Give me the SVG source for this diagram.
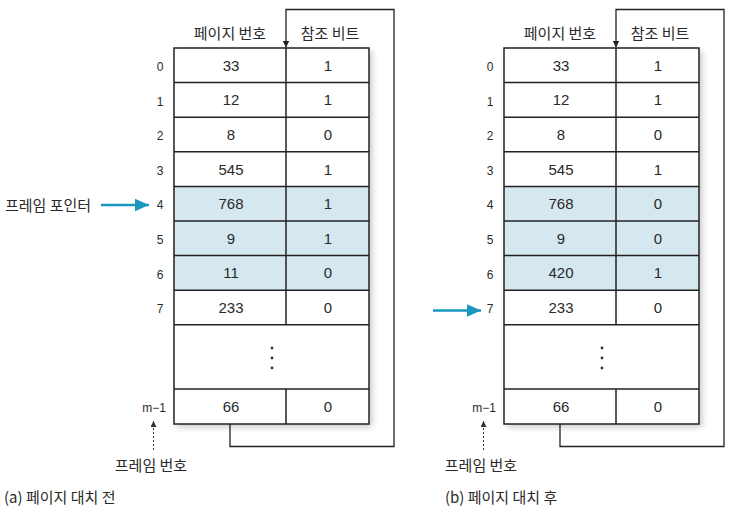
<svg xmlns="http://www.w3.org/2000/svg" width="734" height="525" viewBox="0 0 734 525">
<style>
  .t { font-family: "Liberation Sans", "Noto Sans CJK KR", sans-serif; fill: #2a2a2a; }
  .k { font-family: "Noto Sans CJK KR", "Liberation Sans", sans-serif; fill: #2a2a2a; }
  .cell { font-size: 15px; text-anchor: middle; dominant-baseline: central; }
  .idx { font-size: 12px; text-anchor: middle; dominant-baseline: central; }
  .hdr { font-size: 15px; text-anchor: middle; }
  .lbl { font-size: 15px; }
  .grid { fill: none; stroke: #222; stroke-width: 1.5; }
  .hl { fill: #d5e7ef; }
  .wire { fill: none; stroke: #222; stroke-width: 1.3; }
  .ptr { stroke: #1b97bd; stroke-width: 2.5; fill: none; }
</style>
<defs>
  <filter id="sh" x="-10%" y="-5%" width="125%" height="115%">
    <feDropShadow dx="3" dy="3" stdDeviation="3" flood-color="#000" flood-opacity="0.22"/>
  </filter>
  <marker id="ah" viewBox="0 0 10 10" refX="10" refY="5" markerWidth="7" markerHeight="7" markerUnits="userSpaceOnUse" orient="auto">
    <path d="M0,0 L10,5 L0,10 z" fill="#222"/>
  </marker>
  <marker id="ahs" viewBox="0 0 10 10" refX="10" refY="5" markerWidth="6" markerHeight="6" markerUnits="userSpaceOnUse" orient="auto">
    <path d="M0,0 L10,5 L0,10 z" fill="#333"/>
  </marker>
  <marker id="ahb" viewBox="0 0 10 10" refX="10" refY="5" markerWidth="14" markerHeight="14" markerUnits="userSpaceOnUse" orient="auto">
    <path d="M0,0.5 L10,5 L0,9.5 z" fill="#1b97bd"/>
  </marker>
</defs>
<rect width="734" height="525" fill="#fff"/>

<!-- connectors -->
<g id="connectors">
  <path class="wire" d="M230,424 V446.5 H394 V9.5 H286 V47.5" marker-end="url(#ah)"/>
  <path class="wire" d="M560,424 V446.5 H724 V9.5 H616 V47.5" marker-end="url(#ah)"/>
  <line x1="153.5" y1="450" x2="153.5" y2="421" stroke="#333" stroke-width="1" stroke-dasharray="2,2" marker-end="url(#ahs)"/>
  <line x1="483.5" y1="450" x2="483.5" y2="421" stroke="#333" stroke-width="1" stroke-dasharray="2,2" marker-end="url(#ahs)"/>
  <line class="ptr" x1="101" y1="205" x2="149" y2="205" marker-end="url(#ahb)"/>
  <line class="ptr" x1="433" y1="310.5" x2="481" y2="310.5" marker-end="url(#ahb)"/>
</g>

<!-- table A -->
<g id="tableA">
  <rect x="174" y="48" width="195" height="376" fill="#fff" filter="url(#sh)"/>
  <rect class="hl" x="174" y="186.4" width="195" height="103.8"/>
  <g class="grid">
    <rect x="174" y="48" width="195" height="376"/>
    <line x1="286" y1="48" x2="286" y2="324.8"/>
    <line x1="286" y1="389" x2="286" y2="424"/>
    <line x1="174" y1="82.6" x2="369" y2="82.6"/>
    <line x1="174" y1="117.2" x2="369" y2="117.2"/>
    <line x1="174" y1="151.8" x2="369" y2="151.8"/>
    <line x1="174" y1="186.4" x2="369" y2="186.4"/>
    <line x1="174" y1="221" x2="369" y2="221"/>
    <line x1="174" y1="255.6" x2="369" y2="255.6"/>
    <line x1="174" y1="290.2" x2="369" y2="290.2"/>
    <line x1="174" y1="324.8" x2="369" y2="324.8"/>
    <line x1="174" y1="389" x2="369" y2="389"/>
  </g>
  <text class="k hdr" x="230" y="39">페이지 번호</text>
  <text class="k hdr" x="330" y="39">참조 비트</text>
  <g class="t cell">
    <text x="231" y="65.3">33</text><text x="328" y="65.3">1</text>
    <text x="231" y="99.9">12</text><text x="328" y="99.9">1</text>
    <text x="231" y="134.5">8</text><text x="328" y="134.5">0</text>
    <text x="231" y="169.1">545</text><text x="328" y="169.1">1</text>
    <text x="231" y="203.7">768</text><text x="328" y="203.7">1</text>
    <text x="231" y="238.3">9</text><text x="328" y="238.3">1</text>
    <text x="231" y="272.9">11</text><text x="328" y="272.9">0</text>
    <text x="231" y="307.5">233</text><text x="328" y="307.5">0</text>
    <text x="231" y="406.5">66</text><text x="328" y="406.5">0</text>
  </g>
  <g fill="#333">
    <circle cx="272" cy="348" r="1.4"/><circle cx="272" cy="358" r="1.4"/><circle cx="272" cy="368" r="1.4"/>
  </g>
  <g class="t idx">
    <text x="160" y="67">0</text>
    <text x="160" y="101.6">1</text>
    <text x="160" y="136.2">2</text>
    <text x="160" y="170.8">3</text>
    <text x="160" y="205.4">4</text>
    <text x="160" y="240">5</text>
    <text x="160" y="274.6">6</text>
    <text x="160" y="309.2">7</text>
    <text x="154" y="407.5">m−1</text>
  </g>
  <text class="k lbl" x="5" y="211">프레임 포인터</text>
  <text class="k lbl" x="151" y="471" text-anchor="middle">프레임 번호</text>
  <text class="k lbl" x="4" y="503">(a) 페이지 대치 전</text>
</g>

<!-- table B -->
<g id="tableB">
  <rect x="504" y="48" width="195" height="376" fill="#fff" filter="url(#sh)"/>
  <rect class="hl" x="504" y="186.4" width="195" height="103.8"/>
  <g class="grid">
    <rect x="504" y="48" width="195" height="376"/>
    <line x1="616" y1="48" x2="616" y2="324.8"/>
    <line x1="616" y1="389" x2="616" y2="424"/>
    <line x1="504" y1="82.6" x2="699" y2="82.6"/>
    <line x1="504" y1="117.2" x2="699" y2="117.2"/>
    <line x1="504" y1="151.8" x2="699" y2="151.8"/>
    <line x1="504" y1="186.4" x2="699" y2="186.4"/>
    <line x1="504" y1="221" x2="699" y2="221"/>
    <line x1="504" y1="255.6" x2="699" y2="255.6"/>
    <line x1="504" y1="290.2" x2="699" y2="290.2"/>
    <line x1="504" y1="324.8" x2="699" y2="324.8"/>
    <line x1="504" y1="389" x2="699" y2="389"/>
  </g>
  <text class="k hdr" x="560" y="39">페이지 번호</text>
  <text class="k hdr" x="660" y="39">참조 비트</text>
  <g class="t cell">
    <text x="561" y="65.3">33</text><text x="658" y="65.3">1</text>
    <text x="561" y="99.9">12</text><text x="658" y="99.9">1</text>
    <text x="561" y="134.5">8</text><text x="658" y="134.5">0</text>
    <text x="561" y="169.1">545</text><text x="658" y="169.1">1</text>
    <text x="561" y="203.7">768</text><text x="658" y="203.7">0</text>
    <text x="561" y="238.3">9</text><text x="658" y="238.3">0</text>
    <text x="561" y="272.9">420</text><text x="658" y="272.9">1</text>
    <text x="561" y="307.5">233</text><text x="658" y="307.5">0</text>
    <text x="561" y="406.5">66</text><text x="658" y="406.5">0</text>
  </g>
  <g fill="#333">
    <circle cx="602" cy="348" r="1.4"/><circle cx="602" cy="358" r="1.4"/><circle cx="602" cy="368" r="1.4"/>
  </g>
  <g class="t idx">
    <text x="490" y="67">0</text>
    <text x="490" y="101.6">1</text>
    <text x="490" y="136.2">2</text>
    <text x="490" y="170.8">3</text>
    <text x="490" y="205.4">4</text>
    <text x="490" y="240">5</text>
    <text x="490" y="274.6">6</text>
    <text x="490" y="309.2">7</text>
    <text x="484" y="407.5">m−1</text>
  </g>
  <text class="k lbl" x="481" y="471" text-anchor="middle">프레임 번호</text>
  <text class="k lbl" x="445" y="503">(b) 페이지 대치 후</text>
</g>
</svg>
